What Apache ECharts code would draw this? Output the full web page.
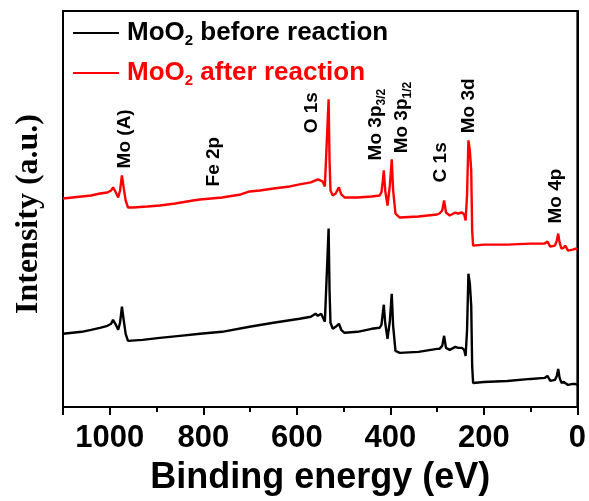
<!DOCTYPE html>
<html>
<head>
<meta charset="utf-8">
<script src="https://cdn.jsdelivr.net/npm/echarts@6/dist/echarts.min.js"></script>
<style>html,body{margin:0;padding:0;background:#fff}#c{width:589px;height:501px}</style>
</head>
<body>
<div id="c"></div>
<script>
// Binding energy (eV) and intensity (a.u.)
const beforeEnergy = [1100,1080,1060,1040,1021,1005,997,993,988,982,978,974,970,966,961,930,893,850,807,760,701,650,594,570,560,555,548,545,540,536,532,530,528,523,517,510,505,498,470,440,423,419,416,414,411,406,401,397,394,389,380,340,300,295,289,285,281,273,261,255,247,242,239,236,233,230,227,225,223,200,150,100,70,64,58,48,44,41,38,34,29,26,20,17,10,4,0];
const beforeIntensity = [73,74,75,77,79,81,83,87,83,77,84,100,86,73,66,67,69,71,73,75,80,84,88,90,93,91,93,90,85,86,178,116,84,78,80,83,77,74,75,78,79,82,94,102,84,68,86,113,81,56,54,55,58,58,61,71,59,57,60,59,59,57,51,76,133,123,101,41,24,25,26,28,29,31,26,27,31,38,29,24,25,26,22,21,23,23,22];

const afterEnergy = [1100,1080,1060,1040,1021,1005,997,993,988,982,978,974,970,966,961,950,920,893,860,822,807,760,720,701,679,650,615,594,570,555,545,540,536,532,530,528,523,517,510,505,498,470,440,423,419,416,414,411,406,401,397,394,389,380,340,300,295,289,285,281,273,261,255,247,242,239,236,233,230,227,225,223,200,150,100,70,64,58,48,44,41,38,34,29,26,20,17,10,4,0];
const afterIntensity = [208,209,210,211,213,214,216,219,215,209,216,231,218,206,199,199,200,201,203,206,207,209,212,215,216,218,220,222,224,227,225,220,220,307,246,216,211,213,219,212,209,209,210,211,214,226,236,216,201,221,247,216,193,189,190,192,193,196,206,194,191,194,193,194,192,186,211,266,256,236,176,161,162,162,163,163,165,160,161,166,173,164,158,159,161,156,155,157,158,157];

// Peak annotations: label, energy (eV), intensity at label start
const annoText = ['Mo (A)','Fe 2p','O 1s','Mo 3p{s|3/2}','Mo 3p{s|1/2}','C 1s','Mo 3d','Mo 4p'];
const annoEnergy = [968,778,568,431,376,293,232,46];
const annoIntensity = [238,220,273,246,253,224,273,183];

const seriesNames = ['MoO2 before reaction','MoO2 after reaction'];
const xTicks = [0,200,400,600,800,1000];

const chart = echarts.init(document.getElementById('c'), null, {renderer:'canvas'});
const sans = 'Liberation Sans, Arial, sans-serif';
chart.setOption({
  animation:false,
  backgroundColor:'#fff',
  grid:{left:63,right:11,top:11,bottom:94,show:true,borderColor:'#000',borderWidth:2},
  legend:{
    orient:'vertical', left:68, top:13, itemGap:10, itemWidth:46, itemHeight:2,
    data:[{name:seriesNames[0],icon:'rect',textStyle:{color:'#000'}},{name:seriesNames[1],icon:'rect',textStyle:{color:'#ff0000'}}],
    formatter:function(n){return '{b|MoO}{s|2}{b|'+n.slice(4)+'}';},
    textStyle:{fontFamily:sans,fontWeight:'bold',fontSize:26,lineHeight:30,padding:[0,0,0,3],
      rich:{b:{fontFamily:sans,fontWeight:'bold',fontSize:26,lineHeight:30},
            s:{fontFamily:sans,fontWeight:'bold',fontSize:15,lineHeight:14,verticalAlign:'bottom'}}}
  },
  xAxis:[{
    type:'value', inverse:true, min:0, max:1100, interval:200,
    name:'Binding energy (eV)', nameLocation:'middle', nameGap:53,
    nameTextStyle:{fontFamily:sans,fontWeight:'bold',fontSize:36,color:'#000'},
    axisLine:{show:true,lineStyle:{color:'#000',width:2}},
    axisTick:{show:true,length:8,lineStyle:{color:'#000',width:2}},
    axisLabel:{margin:16,fontFamily:sans,fontWeight:'bold',fontSize:31,color:'#000',
      formatter:function(v){return xTicks.indexOf(v)>=0?String(v):'';}},
    splitLine:{show:false}
  },{
    type:'value', inverse:true, min:0, max:1100, interval:100, position:'bottom',
    axisLine:{show:false}, axisTick:{show:true,length:5,lineStyle:{color:'#000',width:2}},
    axisLabel:{show:false}, splitLine:{show:false}
  }],
  yAxis:{
    type:'value', min:0, max:395,
    name:'Intensity (a.u.)', nameLocation:'middle', nameGap:18,
    nameTextStyle:{fontFamily:'Liberation Serif, Times New Roman, serif',fontWeight:'bold',fontSize:32,color:'#000',padding:[0,10,0,0]},
    axisLine:{show:true,lineStyle:{color:'#000',width:2}},
    axisTick:{show:false}, axisLabel:{show:false}, splitLine:{show:false}
  },
  series:[
    {name:seriesNames[0],type:'line',xAxisIndex:0,symbol:'none',lineStyle:{color:'#000',width:2.4},itemStyle:{color:'#000'},
     data:beforeEnergy.map((e,i)=>[e,beforeIntensity[i]])},
    {name:seriesNames[1],type:'line',xAxisIndex:0,symbol:'none',lineStyle:{color:'#ff0000',width:2.4},itemStyle:{color:'#ff0000'},
     data:afterEnergy.map((e,i)=>[e,afterIntensity[i]])},
    {name:'labels',type:'scatter',xAxisIndex:0,symbolSize:0,silent:true,itemStyle:{opacity:1,color:'#000'},
     data:annoText.map((t,i)=>[annoEnergy[i],annoIntensity[i],t]),
     label:{show:true,position:[0,0],rotate:90,align:'left',verticalAlign:'middle',opacity:1,color:'#000',
       formatter:function(p){return '{a|'+p.data[2].replace(/\{s\|/,'}{s|')+(p.data[2].indexOf('{s|')>=0?'':'}');},
       rich:{a:{fontFamily:sans,fontWeight:'bold',fontSize:19,lineHeight:24,color:'#000'},
             s:{fontFamily:sans,fontWeight:'bold',fontSize:12,lineHeight:12,verticalAlign:'bottom',color:'#000'}}}}
  ]
});
</script>
</body>
</html>
